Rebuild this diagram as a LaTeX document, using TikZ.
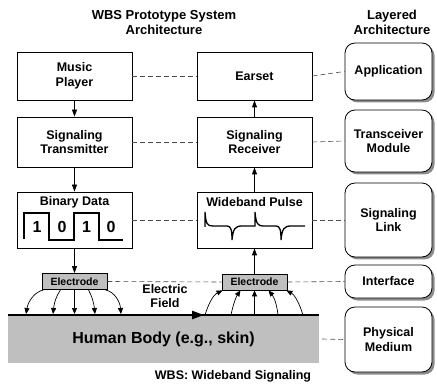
\documentclass[tikz,border=0pt]{standalone}
\usepackage{fontspec}
\setmainfont{Liberation Sans}
\usetikzlibrary{arrows.meta,shadows}
\begin{document}
\begin{tikzpicture}[x=1pt,y=-1pt,
  font=\bfseries\fontsize{12.5}{14.5}\selectfont,
  sysbox/.style={draw, line width=0.8pt, fill=white, minimum width=115pt, minimum height=48pt, align=center, inner sep=0pt},
  layer/.style={draw, line width=0.8pt, fill=white, rounded corners=10pt, minimum width=87pt, align=center, inner sep=0pt,
     drop shadow={shadow xshift=2.5pt, shadow yshift=-2.5pt, fill=black!45, opacity=1}},
  electrode/.style={draw, line width=0.8pt, fill=black!25, minimum width=65pt, minimum height=16pt, inner sep=0pt, font=\bfseries\fontsize{10.5}{12}\selectfont},
  dashline/.style={dash pattern=on 5pt off 3pt, line width=0.6pt, black!70},
  arr/.style={-{Triangle[length=7pt,width=5pt]}, line width=0.8pt},
  farr/.style={-{Triangle[length=6pt,width=5pt]}, line width=0.7pt},
  digit/.style={font=\bfseries\fontsize{16}{18}\selectfont, inner sep=0pt}
]
\useasboundingbox (0,0) rectangle (437,385);

% titles
\node[align=center, font=\bfseries\fontsize{13}{15}\selectfont] (t1) at (164,22.5) {WBS Prototype System\\Architecture};
\node[align=center, font=\bfseries\fontsize{13}{15}\selectfont] (t2) at (392,22.5) {Layered\\Architecture};

% system boxes
\node[sysbox] (music) at (74.5,76) {Music\\Player};
\node[sysbox] (earset) at (254.5,76) {Earset};
\node[sysbox, minimum height=50pt] (tx) at (74.5,142) {Signaling\\Transmitter};
\node[sysbox, minimum height=50pt] (rx) at (254.5,142) {Signaling\\Receiver};
\node[sysbox, minimum height=56pt] (bin) at (74.5,220) {};
\node (bintitle) at (74.5,202) {Binary Data};
\node[sysbox, minimum height=56pt] (wb) at (254.5,220) {};
\node (wbtitle) at (254.5,202) {Wideband Pulse};

% binary waveform
\draw[line width=1.6pt] (24,239) -- (24,213) -- (49,213) -- (49,240) -- (74,240) -- (74,213) -- (99,213) -- (99,240) -- (123,240);
\node[digit] (d1) at (37,227) {1};
\node[digit] (d2) at (62,227) {0};
\node[digit] (d3) at (86.5,227) {1};
\node[digit] (d4) at (111,227) {0};

% wideband pulse waveform
\draw[line width=1.3pt] (205,227) -- (205,212) .. controls (206,224) and (207,226) .. (213,226) -- (227,226)
  .. controls (231,226) and (232,230) .. (232,240) .. controls (233,229) and (235,226) .. (242,226) -- (255,226)
  -- (255,212) .. controls (256,224) and (258,226) .. (263,226) -- (276,226)
  .. controls (280,226) and (281,230) .. (281,240) .. controls (282,229) and (284,226) .. (291,226) -- (305,226);

% electrodes
\node[electrode] (elL) at (74.5,281.5) {Electrode};
\node[electrode] (elR) at (254.5,282) {Electrode};

% body
\node[fill=black!25, minimum width=311pt, minimum height=48pt, inner sep=0pt, font=\bfseries\fontsize{16}{18}\selectfont] (body) at (163.5,339) {Human Body (e.g., skin)};
\draw[line width=1.6pt] (body.north west) -- (body.north east);

% electric field
\coordinate (efs) at (122,315);
\coordinate (efe) at (204,315);
\draw[line width=2.2pt, -{Triangle[length=12pt,width=8pt]}] (efs) -- (efe);
\node[align=center] (eflabel) at (165,296) {Electric\\Field};

% layer boxes
\node[layer, minimum height=57pt] (app) at (388.5,71.5) {Application};
\node[layer, minimum height=62pt] (trans) at (388.5,141) {Transceiver\\Module};
\node[layer, minimum height=74pt] (link) at (388.5,220) {Signaling\\Link};
\node[layer, minimum height=33pt] (iface) at (388.5,281.5) {Interface};
\node[layer, minimum height=65pt] (phys) at (388.5,339.5) {Physical\\Medium};

% dashed connectors
\draw[dashline] (music.east) -- (earset.west);
\draw[dashline] (earset.east) -- (app.west);
\draw[dashline] (tx.east) -- (rx.west);
\draw[dashline] (rx.east) -- (trans.west);
\draw[dashline] (bin.east) -- (wb.west);
\draw[dashline] (wb.east) -- (link.west);
\draw[dashline] (elL.east) -- (elR.west);
\draw[dashline] (elR.east) -- (iface.west);
\draw[dashline] ([xshift=3pt]body.east) -- (phys.west);

% solid arrows
\draw[arr] (music.south) -- (tx.north);
\draw[arr] (tx.south) -- (bin.north);
\draw[arr] (bin.south) -- (elL.north);
\draw[arr] (elR.north) -- (wb.south);
\draw[arr] (wb.north) -- (rx.south);
\draw[arr] (rx.north) -- (earset.south);

% field lines, transmitting electrode
\coordinate (l1) at (26,314);
\coordinate (l2) at (53,314);
\coordinate (l3) at (74.5,314);
\coordinate (l4) at (95,314);
\coordinate (l5) at (121,314);
\draw[farr] ([xshift=2pt]elL.south west) .. controls (34,292) and (28,302) .. (l1);
\draw[farr] ([xshift=-14pt]elL.south) .. controls (56,296) and (54,304) .. (l2);
\draw[farr] (elL.south) -- (l3);
\draw[farr] ([xshift=14pt]elL.south) .. controls (92,296) and (94,304) .. (l4);
\draw[farr] ([xshift=-2pt]elL.south east) .. controls (115,292) and (120,302) .. (l5);

% field lines, receiving electrode
\coordinate (r1) at (205,315);
\coordinate (r2) at (231,315);
\coordinate (r3) at (254.5,315);
\coordinate (r4) at (278,315);
\coordinate (r5) at (303,315);
\draw[farr] (r1) .. controls (208,305) and (213,295) .. ([xshift=1pt]elR.south west);
\draw[farr] (r2) .. controls (233,305) and (236,297) .. ([xshift=-14pt]elR.south);
\draw[farr] (r3) -- (elR.south);
\draw[farr] (r4) .. controls (277,305) and (274,297) .. ([xshift=14pt]elR.south);
\draw[farr] (r5) .. controls (300,305) and (295,295) .. ([xshift=-1pt]elR.south east);

% footnote
\node (foot) at (233,376) {WBS: Wideband Signaling};
\end{tikzpicture}
\end{document}
